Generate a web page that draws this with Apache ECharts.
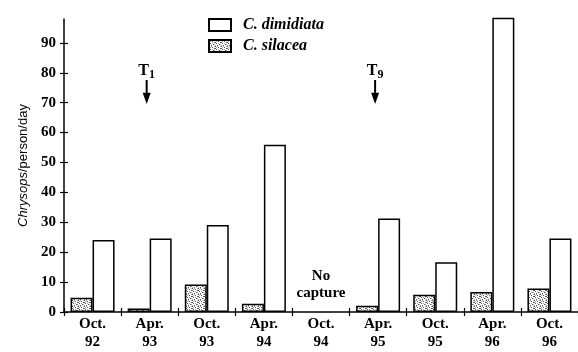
<!DOCTYPE html>
<html><head><meta charset="utf-8">
<script src="https://cdn.jsdelivr.net/npm/echarts@6/dist/echarts.min.js"></script>
<style>html,body{margin:0;padding:0;background:#fff}#c{width:578px;height:352px}</style>
</head><body><div id="c"></div>
<script>
const categories = ['Oct. 92','Apr. 93','Oct. 93','Apr. 94','Oct. 94','Apr. 95','Oct. 95','Apr. 96','Oct. 96'];
const silacea = [4.8, 1.2, 9.2, 2.8, null, 2.1, 5.8, 6.7, 7.9];
const dimidiata = [24.1, 24.6, 29.1, 55.9, null, 31.3, 16.6, 98.4, 24.6];
const yTicks = [0, 10, 20, 30, 40, 50, 60, 70, 80, 90];
const yMax = 98;
const treatments = [{cat: 'Apr. 93', sub: '1'}, {cat: 'Apr. 95', sub: '9'}];
const noCapture = {cat: 'Oct. 94', text: 'No\ncapture'};

const SERIF = '"Liberation Serif", "DejaVu Serif", serif';

// stipple pattern for C. silacea
const pc = document.createElement('canvas'); pc.width = 6; pc.height = 6;
const g = pc.getContext('2d');
g.fillStyle = '#fff'; g.fillRect(0, 0, 6, 6);
g.fillStyle = '#555';
[[0,0],[3,1],[5,2],[1,3],[4,4],[2,5],[0,2]].forEach(([x, y]) => g.fillRect(x, y, 1, 1));
g.fillStyle = '#aaa';
[[2,0],[5,0],[1,1],[3,3],[5,4],[0,5]].forEach(([x, y]) => g.fillRect(x, y, 1, 1));

const chart = echarts.init(document.getElementById('c'), null, {renderer: 'canvas'});
const option = {
  animation: false,
  backgroundColor: '#fff',
  grid: {left: 64, top: 19, width: 517, bottom: 40, containLabel: false},
  legend: {
    orient: 'vertical', left: 203, top: 12, itemWidth: 22, itemHeight: 12, itemGap: 5,
    icon: 'rect',
    data: ['C. dimidiata', 'C. silacea'],
    textStyle: {fontFamily: SERIF, fontWeight: 'bold', fontStyle: 'italic', fontSize: 16, color: '#000', padding: [0, 0, 0, 7]}
  },
  xAxis: [{
    type: 'category', data: categories, gridIndex: 0, position: 'bottom',
    axisLine: {lineStyle: {color: '#000', width: 1.5}},
    axisTick: {show: true, length: 4, lineStyle: {color: '#000', width: 1.2}},
    axisLabel: {
      color: '#000', fontFamily: SERIF, fontWeight: 'bold', fontSize: 15, lineHeight: 18, margin: 3,
      formatter: v => v.replace(' ', '\n')
    }
  }, {
    type: 'category', data: categories, gridIndex: 0, position: 'bottom',
    axisLine: {show: false},
    axisTick: {show: true, inside: true, length: 4, lineStyle: {color: '#000', width: 1.2}},
    axisLabel: {show: false}
  }],
  yAxis: [{
    type: 'value', min: 0, max: yMax, gridIndex: 0, position: 'left',
    splitLine: {show: false},
    axisLine: {show: true, lineStyle: {color: '#000', width: 1.5}},
    axisTick: {show: true, length: 4, customValues: yTicks, lineStyle: {color: '#000', width: 1.2}},
    axisLabel: {customValues: yTicks, color: '#000', fontFamily: SERIF, fontWeight: 'bold', fontSize: 15, margin: 8},
    name: '{i|Chrysops}/person/day',
    nameLocation: 'middle', nameRotate: 90, nameGap: 34,
    nameTextStyle: {
      fontFamily: '"Liberation Sans", sans-serif', fontSize: 13, color: '#000',
      rich: {i: {fontFamily: '"Liberation Sans", sans-serif', fontSize: 13, fontStyle: 'italic', color: '#000'}}
    }
  }, {
    type: 'value', min: 0, max: yMax, gridIndex: 0, position: 'left', offset: 0,
    splitLine: {show: false},
    axisLine: {show: false},
    axisTick: {show: true, inside: true, length: 4, customValues: yTicks, lineStyle: {color: '#000', width: 1.2}},
    axisLabel: {show: false}
  }],
  series: [{
    name: 'C. silacea', type: 'bar', data: silacea, barWidth: 22, barGap: '0%', clip: false,
    itemStyle: {color: {image: pc, repeat: 'repeat'}, borderColor: '#000', borderWidth: 1.5}
  }, {
    name: 'C. dimidiata', type: 'bar', data: dimidiata, barWidth: 22, barGap: '0%', clip: false,
    itemStyle: {color: '#fff', borderColor: '#000', borderWidth: 1.5}
  }]
};
chart.setOption(option);

const gfx = [];
treatments.forEach(t => {
  const pTxt = chart.convertToPixel({gridIndex: 0}, [t.cat, 80.5]);
  const pTop = chart.convertToPixel({gridIndex: 0}, [t.cat, 77.6]);
  const pHead = chart.convertToPixel({gridIndex: 0}, [t.cat, 73.3]);
  const pTip = chart.convertToPixel({gridIndex: 0}, [t.cat, 69.6]);
  const x = pTop[0] - 3;
  gfx.push({
    type: 'text', x: x, y: pTxt[1],
    style: {
      text: '{t|T}{s|' + t.sub + '}', align: 'center', verticalAlign: 'middle',
      rich: {
        t: {fontFamily: SERIF, fontWeight: 'bold', fontSize: 16, fill: '#000'},
        s: {fontFamily: SERIF, fontWeight: 'bold', fontSize: 12, fill: '#000', padding: [8, 0, 0, 0]}
      }
    }
  });
  gfx.push({type: 'line', shape: {x1: x, y1: pTop[1], x2: x, y2: pHead[1]}, style: {stroke: '#000', lineWidth: 2}});
  gfx.push({type: 'polygon', shape: {points: [[x - 4, pHead[1]], [x + 4, pHead[1]], [x, pTip[1]]]}, style: {fill: '#000'}});
});
const pNo = chart.convertToPixel({gridIndex: 0}, [noCapture.cat, 9.2]);
gfx.push({
  type: 'text', x: pNo[0], y: pNo[1],
  style: {text: noCapture.text, align: 'center', verticalAlign: 'middle', fontFamily: SERIF, fontWeight: 'bold', fontSize: 15, lineHeight: 17, fill: '#000'}
});
chart.setOption({graphic: gfx});
</script>
</body></html>
